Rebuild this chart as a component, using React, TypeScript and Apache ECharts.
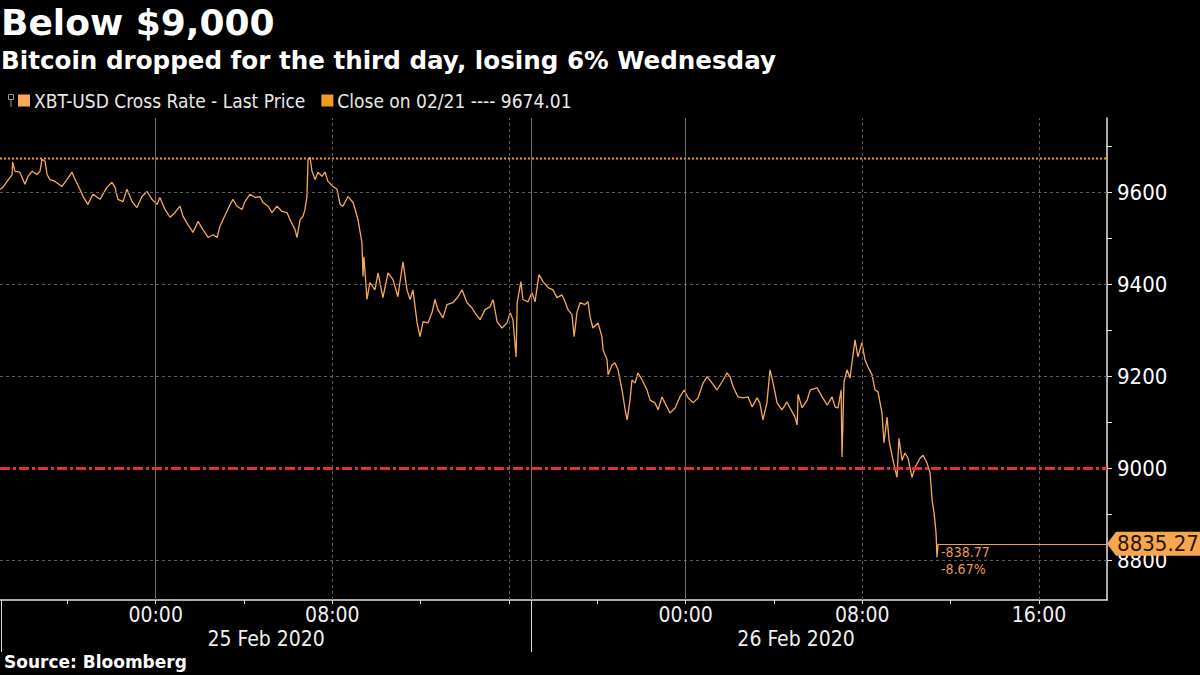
import React, { useEffect, useRef } from "react";
import * as echarts from "echarts";

// ---- data ----
const titleText = "Below $9,000";
const subtitleText = "Bitcoin dropped for the third day, losing 6% Wednesday";
const sourceText = "Source: Bloomberg";
const priceName = "XBT-USD Cross Rate - Last Price";
const closeName = "Close on 02/21 ---- 9674.01";
const closeValue = 9674.01;
const lastPrice = 8835.27;
const changeLabels = ["-838.77", "-8.67%"];
const thresholdValue = 9000;

// hours relative to 25 Feb 2020 00:00
const xMin = -7.05;
const xMax = 43.08;
const yMin = 8713;
const yMax = 9762;

const hourTickValues = [-4, 0, 4, 8, 12, 16, 20, 24, 28, 32, 36, 40];
const hourLabelValues = [0, 8, 24, 32, 40];
const hourLabels = ["00:00", "08:00", "00:00", "08:00", "16:00"];
const daySeparators = [-7, 17];
const dayLabelValues = [5, 29];
const dayLabels = ["25 Feb 2020", "26 Feb 2020"];
const solidVLines = [0, 17, 24];
const dashedVLines = [8, 16, 32, 40];
const yTickValues = [8800, 8900, 9000, 9100, 9200, 9300, 9400, 9500, 9600, 9700];
const yLabelValues = [8800, 9000, 9200, 9400, 9600];
const yGridValues = [8800, 9200, 9400, 9600];

// [hour, price]
const pricePoints: [number, number][] = [
  [-7.05, 9607], [-6.92, 9611], [-6.73, 9624], [-6.5, 9639], [-6.48, 9666], [-6.37, 9646], [-6.15, 9644], [-5.92, 9618],
  [-5.78, 9635], [-5.6, 9646], [-5.38, 9639], [-5.24, 9646], [-5.15, 9672], [-5.01, 9668], [-4.92, 9639], [-4.79, 9628],
  [-4.56, 9624], [-4.24, 9613], [-4.02, 9628], [-3.79, 9644], [-3.65, 9628], [-3.43, 9607], [-3.29, 9591], [-3.07, 9574],
  [-2.84, 9596], [-2.52, 9585], [-2.21, 9611], [-1.98, 9622], [-1.84, 9611], [-1.71, 9585], [-1.48, 9580], [-1.3, 9607],
  [-1.07, 9580], [-0.85, 9567], [-0.62, 9591], [-0.39, 9602], [-0.17, 9585], [0.06, 9574], [0.19, 9589], [0.42, 9563],
  [0.65, 9546], [0.87, 9556], [1.1, 9570], [1.24, 9548], [1.46, 9530], [1.69, 9513], [1.92, 9537], [2.14, 9519],
  [2.37, 9502], [2.6, 9508], [2.78, 9502], [2.91, 9526], [3.05, 9541], [3.23, 9559], [3.37, 9574], [3.5, 9585],
  [3.68, 9570], [3.91, 9563], [4.04, 9580], [4.27, 9596], [4.5, 9589], [4.72, 9591], [4.86, 9578], [5.09, 9570],
  [5.27, 9556], [5.49, 9570], [5.72, 9559], [5.95, 9556], [6.08, 9541], [6.31, 9519], [6.4, 9502], [6.54, 9541],
  [6.67, 9548], [6.76, 9563], [6.85, 9591], [6.9, 9672], [6.99, 9676], [7.08, 9646], [7.22, 9628], [7.35, 9644],
  [7.53, 9635], [7.67, 9644], [7.8, 9624], [8.03, 9613], [8.21, 9607], [8.35, 9574], [8.48, 9570], [8.71, 9591],
  [8.94, 9578], [9.16, 9541], [9.34, 9491], [9.39, 9417], [9.43, 9460], [9.57, 9367], [9.7, 9404], [9.93, 9388],
  [10.07, 9425], [10.29, 9371], [10.52, 9425], [10.75, 9410], [10.97, 9373], [11.06, 9404], [11.2, 9449], [11.38, 9388],
  [11.52, 9367], [11.65, 9388], [11.84, 9316], [11.97, 9286], [12.11, 9319], [12.33, 9316], [12.51, 9338], [12.65, 9367],
  [12.78, 9345], [13.01, 9327], [13.19, 9356], [13.46, 9360], [13.69, 9373], [13.87, 9388], [14.1, 9360], [14.32, 9349],
  [14.46, 9338], [14.69, 9323], [14.91, 9345], [15.14, 9351], [15.28, 9367], [15.46, 9319], [15.68, 9305], [15.91, 9316],
  [16.05, 9338], [16.18, 9323], [16.32, 9242], [16.37, 9360], [16.54, 9406], [16.63, 9367], [16.86, 9362], [17.04, 9382],
  [17.18, 9362], [17.27, 9393], [17.36, 9421], [17.54, 9406], [17.77, 9393], [17.99, 9388], [18.17, 9371], [18.4, 9377],
  [18.54, 9362], [18.67, 9345], [18.85, 9334], [18.95, 9286], [19.08, 9340], [19.22, 9360], [19.44, 9356], [19.58, 9362],
  [19.67, 9329], [19.8, 9305], [20.03, 9316], [20.21, 9286], [20.26, 9257], [20.44, 9236], [20.49, 9203], [20.67, 9225],
  [20.8, 9229], [20.94, 9214], [21.12, 9170], [21.26, 9127], [21.35, 9105], [21.48, 9148], [21.57, 9192], [21.71, 9185],
  [21.84, 9207], [22.03, 9192], [22.25, 9170], [22.39, 9148], [22.61, 9142], [22.75, 9127], [22.93, 9155], [23.06, 9142],
  [23.29, 9120], [23.52, 9131], [23.74, 9155], [23.93, 9170], [24.11, 9153], [24.34, 9142], [24.56, 9153], [24.79, 9185],
  [24.97, 9199], [25.2, 9185], [25.42, 9170], [25.65, 9188], [25.87, 9207], [26.01, 9199], [26.15, 9177], [26.37, 9155],
  [26.6, 9153], [26.83, 9155], [27.01, 9133], [27.23, 9153], [27.36, 9142], [27.5, 9105], [27.68, 9142], [27.82, 9214],
  [27.96, 9185], [28.14, 9142], [28.36, 9127], [28.59, 9144], [28.73, 9131], [28.95, 9111], [29.05, 9094], [29.09, 9161],
  [29.27, 9131], [29.5, 9148], [29.64, 9170], [29.95, 9175], [30.18, 9155], [30.41, 9137], [30.63, 9155], [30.77, 9133],
  [30.9, 9131], [31.04, 9170], [31.08, 9024], [31.17, 9188], [31.31, 9214], [31.44, 9196], [31.58, 9247], [31.67, 9279],
  [31.8, 9242], [31.98, 9273], [32.12, 9236], [32.26, 9220], [32.44, 9203], [32.58, 9170], [32.71, 9166], [32.89, 9120],
  [32.98, 9055], [33.12, 9111], [33.21, 9061], [33.39, 9017], [33.57, 8980], [33.66, 9065], [33.8, 9017], [33.93, 9033],
  [34.07, 9022], [34.25, 8980], [34.39, 9002], [34.62, 9022], [34.75, 9028], [34.93, 9011], [35.07, 8989], [35.16, 8930],
  [35.25, 8902], [35.34, 8858], [35.38, 8806], [35.43, 8835.27],
];

const NARROW = "'Liberation Sans Narrow', 'DejaVu Sans Condensed', Roboto, sans-serif";
const BOLD = "'DejaVu Sans', sans-serif";
const PRICE_COLOR = "#f6aa58";
const CLOSE_COLOR = "#f39a1f";

export default function App() {
  const ref = useRef<HTMLDivElement>(null);

  useEffect(() => {
    document.body.style.margin = "0";
    document.body.style.background = "#000";
    if (!ref.current) return;
    const chart = echarts.init(ref.current, null, { renderer: "svg" });
    const lastHour = pricePoints[pricePoints.length - 1][0];

    const gridLines: any[] = [
      ...yGridValues.map((v) => ({ yAxis: v, lineStyle: { color: "#5e5e5e", type: [3, 3], width: 1 } })),
      ...solidVLines.map((v) => ({ xAxis: v, lineStyle: { color: "#6e6e6e", type: "solid", width: 1 } })),
      ...dashedVLines.map((v) => ({ xAxis: v, lineStyle: { color: "#5e5e5e", type: [3, 3], width: 1 } })),
      { yAxis: thresholdValue, lineStyle: { color: "#e0303a", type: [10, 3, 3, 3], width: 3 } },
    ];

    chart.setOption({
      animation: false,
      backgroundColor: "#000",
      title: [
        { text: titleText, left: 1, top: 4, padding: 0, textStyle: { color: "#fff", fontSize: 36, fontWeight: "bold", fontFamily: BOLD } },
        { text: subtitleText, left: 1, top: 48, padding: 0, textStyle: { color: "#fff", fontSize: 24.6, fontWeight: "bold", fontFamily: BOLD } },
        { text: sourceText, left: 4, top: 653, padding: 0, textStyle: { color: "#fff", fontSize: 17, fontWeight: "bold", fontFamily: BOLD } },
      ],
      legend: {
        left: 18,
        top: 91,
        padding: 0,
        itemWidth: 12,
        itemHeight: 12,
        itemGap: 16,
        icon: "rect",
        data: [priceName, closeName],
        textStyle: { color: "#e8e8e8", fontSize: 19, fontFamily: NARROW, padding: [0, 0, 0, -1] },
      },
      grid: { left: 0, right: 93, top: 118, bottom: 75 },
      xAxis: [
        {
          type: "value",
          min: xMin,
          max: xMax,
          position: "bottom",
          axisLine: { show: true, onZero: false, lineStyle: { color: "#e6e6e6", width: 1.5 } },
          axisTick: { show: true, length: 4, customValues: hourTickValues, lineStyle: { color: "#e6e6e6" } },
          axisLabel: {
            show: true,
            customValues: hourLabelValues,
            margin: 4,
            color: "#f0f0f0",
            fontSize: 21,
            fontFamily: NARROW,
            formatter: (v: number) => hourLabels[hourLabelValues.indexOf(v)] ?? "",
          },
          splitLine: { show: false },
        },
        {
          type: "value",
          min: xMin,
          max: xMax,
          position: "bottom",
          axisLine: { show: false, onZero: false },
          axisTick: { show: true, length: 52, customValues: daySeparators, lineStyle: { color: "#d8d8d8" } },
          axisLabel: {
            show: true,
            customValues: dayLabelValues,
            margin: 28,
            color: "#f0f0f0",
            fontSize: 21,
            fontFamily: NARROW,
            formatter: (v: number) => dayLabels[dayLabelValues.indexOf(v)] ?? "",
          },
          splitLine: { show: false },
        },
      ],
      yAxis: {
        type: "value",
        position: "right",
        min: yMin,
        max: yMax,
        axisLine: { show: true, onZero: false, lineStyle: { color: "#e6e6e6", width: 1.5 } },
        axisTick: { show: true, length: 5, customValues: yTickValues, lineStyle: { color: "#e6e6e6" } },
        axisLabel: {
          show: true,
          customValues: yLabelValues,
          margin: 10,
          color: "#fff",
          fontSize: 22,
          fontFamily: NARROW,
          formatter: (v: number) => String(v),
        },
        splitLine: { show: false },
      },
      series: [
        {
          name: closeName,
          type: "line",
          z: 1,
          data: [[xMin, closeValue], [xMax, closeValue]],
          showSymbol: false,
          color: CLOSE_COLOR,
          lineStyle: { color: CLOSE_COLOR, width: 2, type: [2, 2] },
          markLine: { silent: true, symbol: ["none", "none"], label: { show: false }, data: gridLines },
        },
        {
          name: priceName,
          type: "line",
          z: 3,
          data: pricePoints,
          showSymbol: false,
          color: PRICE_COLOR,
          lineStyle: { color: PRICE_COLOR, width: 1.3 },
          markLine: {
            silent: true,
            symbol: ["none", "none"],
            label: { show: false },
            lineStyle: { color: "#f0a04a", type: "solid", width: 1.2 },
            data: [[{ coord: [lastHour, lastPrice] }, { coord: [xMax, lastPrice] }]],
          },
          markPoint: {
            silent: true,
            data: [
              {
                coord: [xMax, lastPrice],
                symbol: "path://M0,12L9,0L94,0L94,24L9,24Z",
                symbolSize: [94, 24],
                symbolOffset: ["50%", 0],
                itemStyle: { color: "#f6a64c" },
                label: {
                  show: true,
                  position: "inside",
                  offset: [4, 0],
                  formatter: String(lastPrice),
                  color: "#2a1606",
                  fontSize: 22,
                  fontFamily: NARROW,
                },
              },
              {
                coord: [lastHour, lastPrice],
                symbol: "circle",
                symbolSize: 0,
                label: {
                  show: true,
                  position: "right",
                  distance: 3,
                  offset: [0, 17],
                  formatter: changeLabels.join("\n"),
                  color: "#e89a50",
                  fontSize: 14,
                  lineHeight: 17,
                  fontFamily: NARROW,
                },
              },
            ],
          },
        },
      ],
      graphic: [
        { type: "rect", shape: { x: 8.5, y: 94.5, width: 5, height: 5 }, style: { fill: "none", stroke: "#9a9a9a", lineWidth: 1 } },
        { type: "line", shape: { x1: 11, y1: 99.5, x2: 11, y2: 107 }, style: { stroke: "#9a9a9a", lineWidth: 1 } },
      ],
    });
    return () => chart.dispose();
  }, []);

  return <div ref={ref} style={{ width: 1200, height: 675 }} />;
}
